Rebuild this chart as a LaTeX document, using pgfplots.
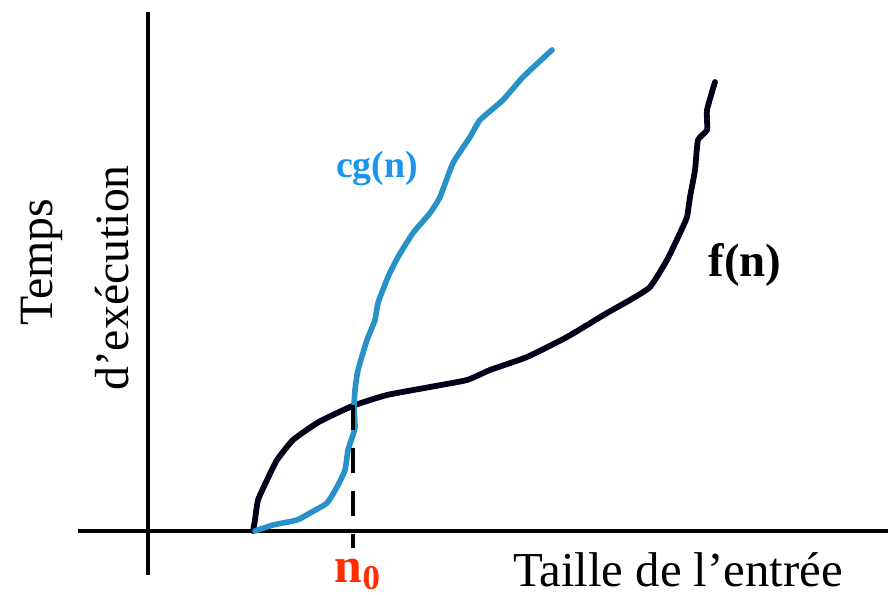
\documentclass[border=0pt]{standalone}
\usepackage{pgfplots}
\pgfplotsset{compat=1.18}
\usepackage{fontspec}
\setmainfont{Liberation Serif}
\definecolor{cgblue}{RGB}{40,145,200}
\definecolor{cgtext}{RGB}{25,150,235}
\definecolor{nred}{RGB}{255,45,0}
\begin{document}
\begin{tikzpicture}
\begin{axis}[
    width=444bp, height=297.5bp,
    scale only axis,
    xmin=0, xmax=888, ymin=0, ymax=595,
    hide axis,
    clip=false,
    every axis plot/.append style={line join=round, line cap=round},
]
% axes
\addplot[black, line width=2bp, line cap=butt] coordinates {(148,583) (148,20)};
\addplot[black, line width=2bp, line cap=butt] coordinates {(78,64) (888,64)};
% f(n)
\addplot[black!90!blue, line width=2.9bp, smooth, tension=0.3] coordinates {
(253,64) (255,75) (258,95) (267,115) (277,135) (293,155) (317,172) (337,182)
(355,190) (387,200) (430,208) (467,215) (490,225) (527,238) (567,258) (607,282)
(630,295) (650,308) (667,335) (680,362) (687,378) (690,398) (695,425) (698,455)
(707,465) (707,485) (715,513)};
% cg(n)
\addplot[cgblue, line width=2.8bp, smooth, tension=0.3] coordinates {
(255,64) (273,70) (297,75) (310,82) (327,92) (337,108) (345,125) (348,145)
(352,157) (355,168) (354,188) (355,205) (358,225) (367,255) (375,275) (378,292)
(388,318) (398,338) (413,362) (430,382) (440,398) (453,432) (470,458) (480,475)
(503,495) (523,518) (552,545)};
% n0 dashed line
\addplot[black, line width=2bp, line cap=butt, dash pattern=on 12.5bp off 9bp] coordinates {(353,190) (353,47)};
% labels
\node[anchor=base, font=\fontsize{24.5}{29}\selectfont] at (axis cs:678,9) {Taille de l’entrée};
\node[anchor=base, text=nred, font=\fontsize{25}{30}\selectfont\bfseries] at (axis cs:358,13) {n\textsubscript{0}};
\node[anchor=base, rotate=90, font=\fontsize{24}{29}\selectfont] at (axis cs:52,333) {Temps};
\node[anchor=base, rotate=90, font=\fontsize{24}{29}\selectfont] at (axis cs:128,317) {d’exécution};
\node[anchor=base, text=cgtext, font=\fontsize{19}{23}\selectfont\bfseries] at (axis cs:377,417) {cg(n)};
\node[anchor=base, font=\fontsize{23.5}{28}\selectfont\bfseries] at (axis cs:745,318) {f(n)};
\end{axis}
\pgfresetboundingbox
\useasboundingbox (0,0) rectangle (444bp,297.5bp);
\end{tikzpicture}
\end{document}
